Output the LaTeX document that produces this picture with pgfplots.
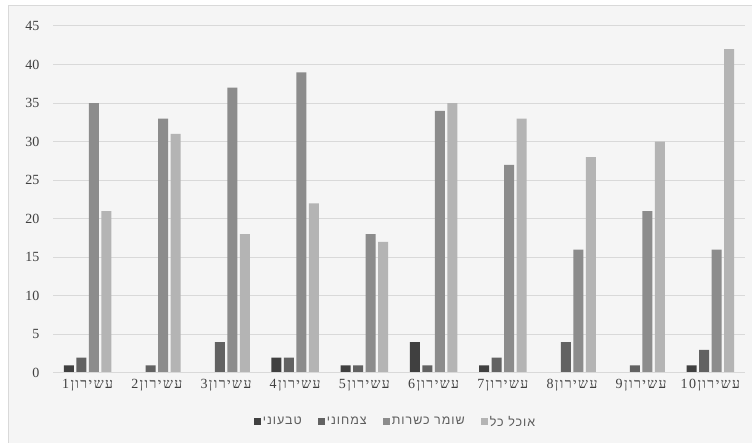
\documentclass[border=0pt]{standalone}
\usepackage{fontspec}
\setmainfont{Liberation Serif}
\newfontfamily\hebfont[Script=Hebrew, LetterSpace=10]{Liberation Serif}
\newfontfamily\hebsans[Script=Hebrew, LetterSpace=8]{Liberation Sans}
\TeXXeTstate=1
\usepackage{pgfplots}
\pgfplotsset{compat=1.18}
\usepackage{pgfplotstable}

\definecolor{vegan}{HTML}{404040}
\definecolor{veggie}{HTML}{626262}
\definecolor{kosher}{HTML}{8C8C8C}
\definecolor{omni}{HTML}{B4B4B4}
\definecolor{bg}{HTML}{F5F5F5}
\definecolor{gridc}{HTML}{D9D9D9}
\definecolor{txt}{HTML}{404040}

\newcommand\lab[1]{\hebfont\beginR עשירון#1\endR}

% decile, vegan, vegetarian, kosher, omnivore
\pgfplotstableread{
x a b c d
1 1 2 35 21
2 0 1 33 31
3 0 4 37 18
4 2 2 39 22
5 1 1 18 17
6 4 1 34 35
7 1 2 27 33
8 0 4 16 28
9 0 1 21 30
10 1 3 16 42
}\datatable

\begin{document}
\begin{tikzpicture}
\path[use as bounding box] (-53pt,-70pt) rectangle (699pt,373pt);
\fill[white] (-53pt,-70pt) rectangle (699pt,373pt);
\fill[bg] (-44pt,-71pt) rectangle (700pt,367pt);
\draw[gridc, line width=1pt] (-44pt,-71pt) -- (-44pt,367pt) -- (700pt,367pt);
\begin{axis}[
at={(0,0)}, anchor=south west,
scale only axis,
width=692pt, height=347pt,
xmin=0.5, xmax=10.5,
ymin=0, ymax=45,
ybar=2.5pt, bar width=10pt,
axis line style={draw=none},
axis x line*=bottom,
ymajorgrids, grid style={gridc, line width=1pt},
major tick length=0pt,
xtick=data,
xticklabels={\lab1,\lab2,\lab3,\lab4,\lab5,\lab6,\lab7,\lab8,\lab9,\lab{10}},
ytick={0,5,...,45},
/pgf/number format/assume math mode=true,
yticklabel style={font=\fontsize{14}{14}\selectfont, text=txt, xshift=-10pt},
xticklabel style={font=\fontsize{14}{14}\selectfont, text=txt, yshift=-3pt},
legend style={at={(0.495,-0.141)}, anchor=center, draw=none, fill=none,
  font=\hebsans\fontsize{12.5}{12.5}\selectfont, text=txt!85,
  /tikz/every even column/.append style={column sep=14pt}},
legend columns=-1,
legend image code/.code={\fill[#1] (0pt,-3.5pt) rectangle (7pt,3.5pt);},
]
\addplot[fill=vegan, draw=none] table[x=x, y=a] {\datatable};
\addplot[fill=veggie, draw=none] table[x=x, y=b] {\datatable};
\addplot[fill=kosher, draw=none] table[x=x, y=c] {\datatable};
\addplot[fill=omni, draw=none] table[x=x, y=d] {\datatable};
\draw[gridc, line width=1pt] (axis cs:0.5,0) -- (axis cs:10.5,0);
\legend{\beginR טבעוני\endR, \beginR צמחוני\endR, \beginR שומר כשרות\endR, \beginR אוכל כל\endR}
\end{axis}
\end{tikzpicture}
\end{document}
